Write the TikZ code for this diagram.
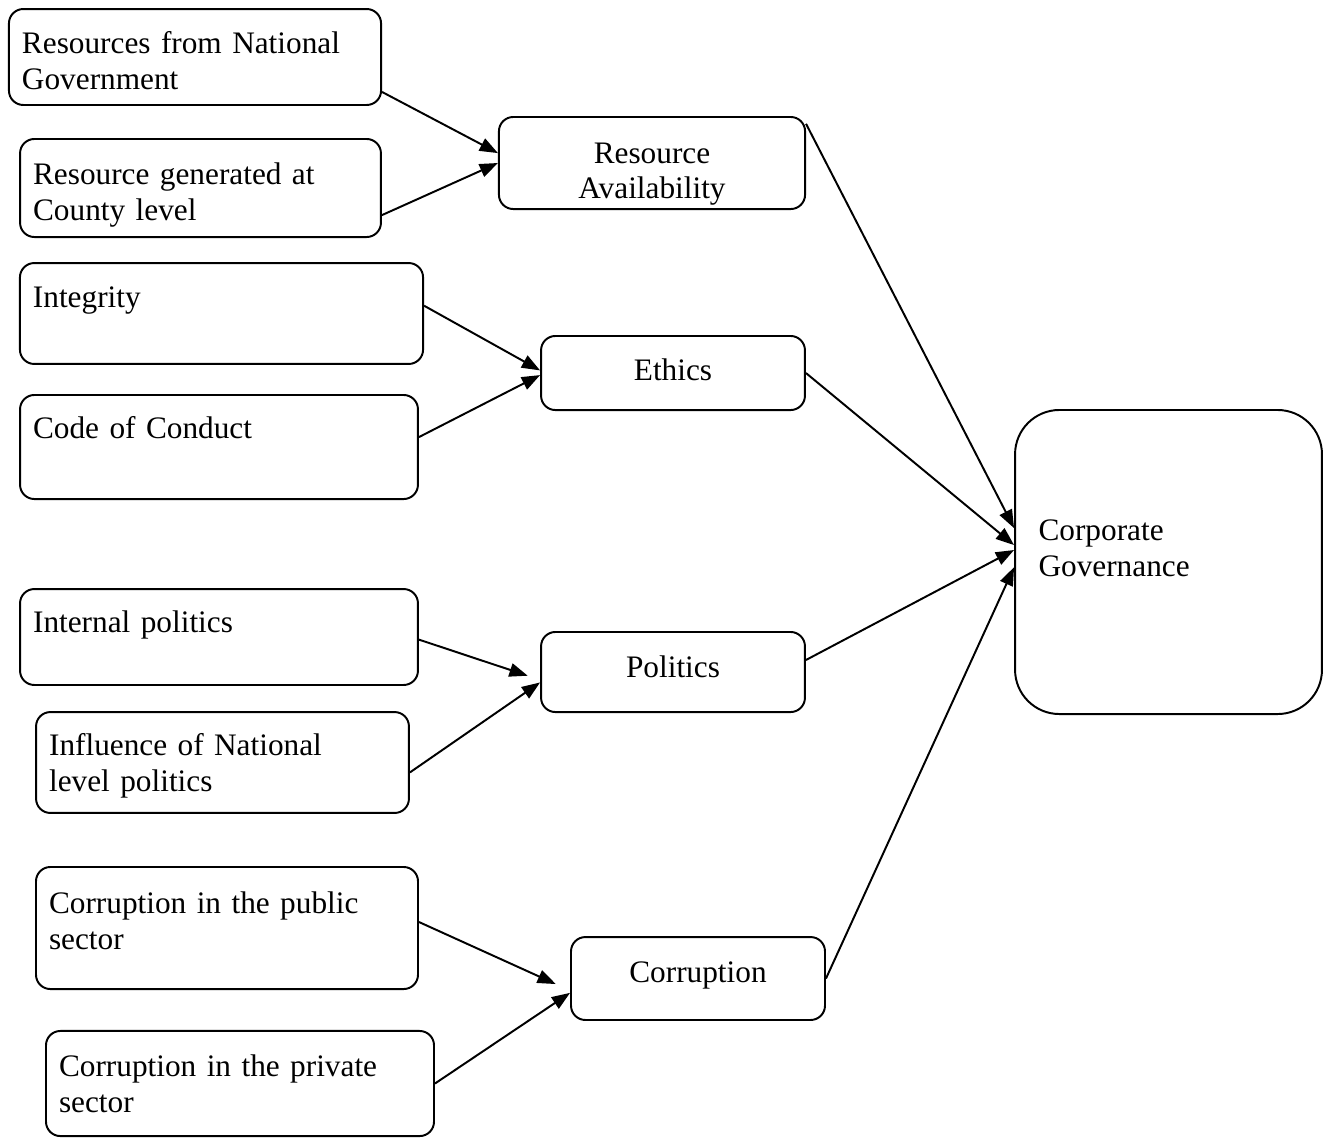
\documentclass[tikz,border=0pt]{standalone}
\usepackage{fontspec}
\setmainfont{Liberation Serif}
\usepackage{tikz}
\usetikzlibrary{
    arrows.meta
}
% invisible struts to nudge text inside a box
\newcommand{\sinkline}[1]{\rule{0pt}{#1}}
\newcommand{\liftline}[1]{\rule[-#1]{0pt}{#1}}
\tikzset{
    % Factor box (text at top left)
    leafbox/.style={
        rectangle,
        rounded corners=5.5pt,
        draw=black,
        line width=0.75pt,
        fill=white,
        font=\fontsize{12pt}{13.8pt}\selectfont,
        align=left,
        inner xsep=5pt,
        inner ysep=2pt
    },
    % Variable box (centred text)
    varbox/.style={
        rectangle,
        rounded corners=5.5pt,
        draw=black,
        line width=0.75pt,
        fill=white,
        font=\fontsize{12pt}{13.8pt}\selectfont,
        align=center,
        inner sep=2pt
    },
    % Outcome box
    outbox/.style={
        leafbox,
        rounded corners=17pt,
        inner xsep=9pt
    },
    % Arrow style
    factorarrow/.style={
        -{Triangle[length=7pt,width=5.2pt]},
        line width=0.75pt,
        color=black
    }
}

\begin{document}
\begin{tikzpicture}[x=0.3835pt, y=-0.3835pt]

    \useasboundingbox (0,0) rectangle (1327,1137);

    % Factor boxes (left side)
    \node[leafbox, text width=132.7pt, minimum height=36.8pt] (natgov) at (195,57) {\sinkline{11.2pt}Resources from National\\Government};
    \node[leafbox, text width=128.4pt, minimum height=37.6pt] (county) at (200.5,188) {\sinkline{13.6pt}Resource generated at\\County level};
    \node[leafbox, text width=144.6pt, minimum height=38.7pt] (integrity) at (221.5,313.5) {\sinkline{13.2pt}Integrity\\\strut};
    \node[leafbox, text width=142.6pt, minimum height=39.9pt] (conduct) at (219,447) {\sinkline{11.2pt}Code of Conduct\\\strut};
    \node[leafbox, text width=142.6pt, minimum height=36.8pt] (internal) at (219,637) {\sinkline{14.2pt}Internal politics\\\strut};
    \node[leafbox, text width=133.0pt, minimum height=38.7pt] (national) at (222.5,762.5) {\sinkline{11.2pt}Influence of National\\level politics};
    \node[leafbox, text width=136.5pt, minimum height=46.8pt] (public) at (227,928) {Corruption in the public\\sector\liftline{6pt}};
    \node[leafbox, text width=138.8pt, minimum height=40.3pt] (private) at (240,1083.5) {Corruption in the private\\sector};

    % Variable boxes (middle)
    \node[varbox, minimum width=117.4pt, minimum height=35.3pt] (resavail) at (652,163) {\raisebox{-13.8pt}[0pt][0pt]{\begin{tabular}[b]{@{}c@{}}Resource\\Availability\end{tabular}}};
    \node[varbox, minimum width=101.2pt, minimum height=28.4pt] (ethics) at (673,373) {Ethics\liftline{2.4pt}};
    \node[varbox, minimum width=101.2pt, minimum height=30.7pt] (politics) at (673,672) {Politics\liftline{4.4pt}};
    \node[varbox, minimum width=97.4pt, minimum height=31.8pt] (corruption) at (698,978.5) {Corruption\liftline{5pt}};

    % Outcome box (right)
    \node[outbox, text width=99.7pt, minimum height=116.6pt] (cg) at (1168.5,562) {Corporate\\Governance\liftline{10.8pt}};

    % Factor arrows
    \draw[factorarrow] ([yshift=-13.4pt]natgov.east) -- ([yshift=3.8pt]resavail.west);
    \draw[factorarrow] ([yshift=-10.4pt]county.east) -- (resavail.west);
    \draw[factorarrow] ([yshift=3pt]integrity.east) -- ([yshift=1pt]ethics.west);
    \draw[factorarrow] ([yshift=3.8pt]conduct.east) -- ([yshift=-0.8pt]ethics.west);
    \draw[factorarrow, shorten >=5pt] ([yshift=-1pt]internal.east) -- ([yshift=-3pt]politics.west);
    \draw[factorarrow] ([yshift=-3.8pt]national.east) -- ([yshift=-4pt]politics.west);
    \draw[factorarrow, shorten >=6pt] ([yshift=2.3pt]public.east) -- ([yshift=-4.6pt]corruption.west);
    \draw[factorarrow] (private.east) -- ([yshift=-5.5pt]corruption.west);

    % Variables to corporate governance
    \draw[factorarrow] ([yshift=-3pt]resavail.north east) -- ([yshift=13pt]cg.west);
    \draw[factorarrow] (ethics.east) -- ([yshift=6.5pt]cg.west);
    \draw[factorarrow] ([yshift=4.6pt]politics.east) -- ([yshift=4.6pt]cg.west);
    \draw[factorarrow] (corruption.east) -- ([yshift=-2pt]cg.west);

\end{tikzpicture}
\end{document}
